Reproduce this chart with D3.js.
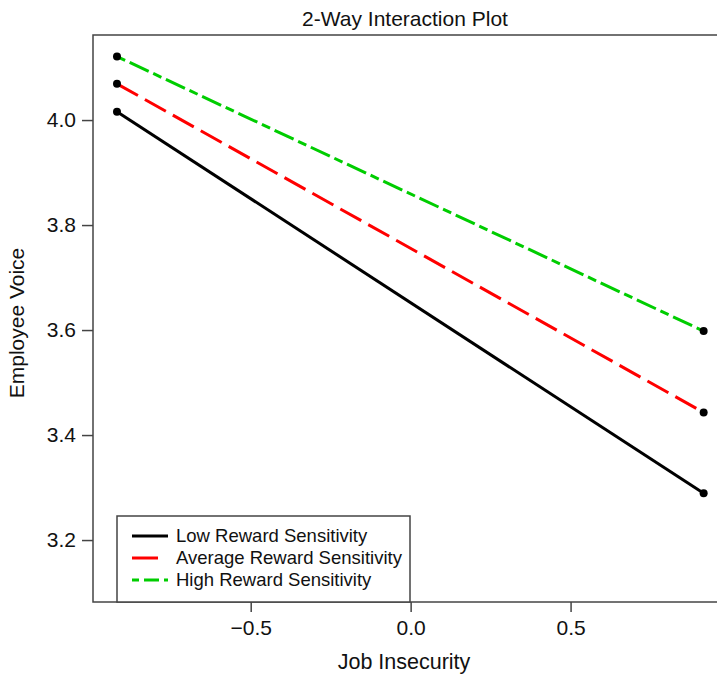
<!DOCTYPE html>
<html>
<head>
<meta charset="utf-8">
<script src="https://cdn.jsdelivr.net/npm/d3@7"></script>
<style>
  body { margin: 0; background: #fff; }
  text { font-family: "Liberation Sans", Arial, sans-serif; fill: #111; }
</style>
</head>
<body>
<div id="chart"></div>
<script>
// data
var xLevels = [-0.918, 0.916];
var seriesNames = ["Low Reward Sensitivity", "Average Reward Sensitivity", "High Reward Sensitivity"];
var lowValues = [4.016, 3.289];
var avgValues = [4.069, 3.443];
var highValues = [4.121, 3.598];
var xTicks = [-0.5, 0.0, 0.5];
var yTicks = [3.2, 3.4, 3.6, 3.8, 4.0];

var width = 717, height = 674;
var margin = {top: 35, right: -10, bottom: 72, left: 93};

var svg = d3.select("#chart")
    .append("svg")
    .attr("width", width)
    .attr("height", height);

var xScale = d3.scaleLinear()
    .domain([-0.993, 0.989])
    .range([margin.left, width - margin.right]);

var yScale = d3.scaleLinear()
    .domain([3.082, 4.162])
    .range([height - margin.bottom, margin.top]);

var series = [
    {name: seriesNames[0], values: lowValues, color: "#000000", dash: null},
    {name: seriesNames[1], values: avgValues, color: "#ff0000", dash: "24,8"},
    {name: seriesNames[2], values: highValues, color: "#00cd00", dash: "9,5,21,5"}
];

// plot box
svg.append("rect")
    .attr("x", xScale.range()[0])
    .attr("y", yScale.range()[1])
    .attr("width", xScale.range()[1] - xScale.range()[0])
    .attr("height", yScale.range()[0] - yScale.range()[1])
    .attr("fill", "none")
    .attr("stroke", "#444")
    .attr("stroke-width", 1.5);

// axes
var fmt = function(d){ return d3.format(".1f")(d).replace("-", "\u2212"); };

var xAxis = svg.append("g")
    .attr("transform", "translate(0," + yScale.range()[0] + ")")
    .call(d3.axisBottom(xScale).tickValues(xTicks).tickSize(10).tickPadding(8).tickFormat(fmt));

var yAxis = svg.append("g")
    .attr("transform", "translate(" + xScale.range()[0] + ",0)")
    .call(d3.axisLeft(yScale).tickValues(yTicks).tickSize(11).tickPadding(6).tickFormat(fmt));

[xAxis, yAxis].forEach(function(ax){
    ax.select(".domain").remove();
    ax.selectAll(".tick line").attr("stroke", "#444").attr("stroke-width", 1.5);
    ax.selectAll(".tick text")
        .style("font-family", "Liberation Sans, Arial, sans-serif")
        .style("font-size", "21px")
        .attr("fill", "#111");
});

// lines
var line = d3.line()
    .x(function(d, i){ return xScale(xLevels[i]); })
    .y(function(d){ return yScale(d); });

series.forEach(function(s){
    svg.append("path")
        .datum(s.values)
        .attr("d", line)
        .attr("fill", "none")
        .attr("stroke", s.color)
        .attr("stroke-width", 3)
        .attr("stroke-dasharray", s.dash);

    svg.selectAll(null)
        .data(s.values)
        .enter()
        .append("circle")
        .attr("cx", function(d, i){ return xScale(xLevels[i]); })
        .attr("cy", function(d){ return yScale(d); })
        .attr("r", 4)
        .attr("fill", "#000");
});

// title and labels
svg.append("text")
    .attr("x", 405)
    .attr("y", 26)
    .attr("text-anchor", "middle")
    .style("font-size", "21px")
    .text("2-Way Interaction Plot");

svg.append("text")
    .attr("x", 404)
    .attr("y", 669)
    .attr("text-anchor", "middle")
    .style("font-size", "21.5px")
    .text("Job Insecurity");

svg.append("text")
    .attr("transform", "translate(24,323) rotate(-90)")
    .attr("text-anchor", "middle")
    .style("font-size", "21px")
    .text("Employee Voice");

// legend
var legend = svg.append("g");
legend.append("rect")
    .attr("x", 117)
    .attr("y", 516)
    .attr("width", 293)
    .attr("height", 86)
    .attr("fill", "#fff")
    .attr("stroke", "#444")
    .attr("stroke-width", 1.5);

series.forEach(function(s, i){
    var y = 536 + i * 22;
    legend.append("line")
        .attr("x1", 132).attr("x2", 168)
        .attr("y1", y).attr("y2", y)
        .attr("stroke", s.color)
        .attr("stroke-width", 3)
        .attr("stroke-dasharray", i === 0 ? null : (i === 1 ? "26,12" : "7,5,15,5"));
    legend.append("text")
        .attr("x", 176)
        .attr("y", y)
        .attr("dy", "0.35em")
        .style("font-size", "18.5px")
        .text(s.name);
});
</script>
</body>
</html>
